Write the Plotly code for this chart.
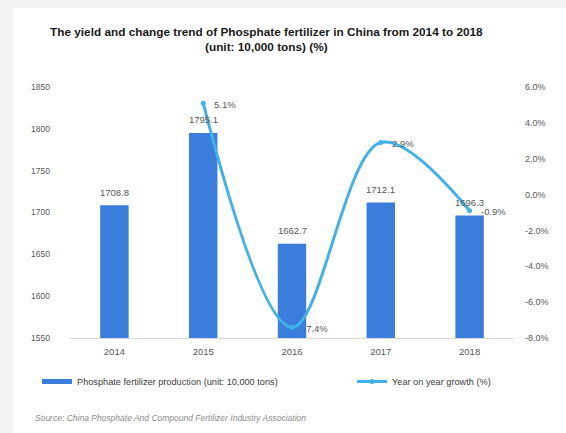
import plotly.graph_objects as go

years = ["2014", "2015", "2016", "2017", "2018"]
production = [1708.8, 1795.1, 1662.7, 1712.1, 1696.3]
growth = [None, 5.1, -7.4, 2.9, -0.9]

left_ticks = [1550, 1600, 1650, 1700, 1750, 1800, 1850]
right_ticks = [-8, -6, -4, -2, 0, 2, 4, 6]
right_tick_text = [f"{v:.1f}%" for v in right_ticks]

BAR_COLOR = "#3b7ddd"
LINE_COLOR = "#40b2ea"
TEXT_GRAY = "#595959"
FONT = "Arial, Liberation Sans, sans-serif"

fig = go.Figure()

fig.add_trace(go.Bar(
    x=years, y=production, yaxis="y",
    marker=dict(color=BAR_COLOR, line=dict(width=0)),
    width=0.32,
    showlegend=False,
    name="Phosphate fertilizer production (unit: 10,000 tons)",
))

# legend entry for the bars drawn as a flat band
fig.add_trace(go.Scatter(
    x=[None], y=[None], mode="lines",
    line=dict(color=BAR_COLOR, width=5),
    name="Phosphate fertilizer production (unit: 10,000 tons)",
    legend="legend",
))

fig.add_trace(go.Scatter(
    x=years, y=growth, yaxis="y2",
    mode="lines+markers",
    line=dict(color=LINE_COLOR, width=3, shape="spline", smoothing=1.0),
    marker=dict(color=LINE_COLOR, size=5),
    cliponaxis=False,
    connectgaps=False,
    name="Year on year growth (%)",
    legend="legend2",
))

# white card over a light gray surround
L, R, T, B = 70, 52, 87, 95
W, H = 566, 433
pw, ph = W - L - R, H - T - B
def px(x):
    return (x - L) / pw
def py(y):
    return (H - B - y) / ph

annotations = [
    dict(text="<b>The yield and change trend of Phosphate fertilizer in China from 2014 to 2018"
              "<br>(unit: 10,000 tons) (%)</b>",
         xref="paper", yref="paper", x=px(266), y=py(40),
         xanchor="center", yanchor="middle", showarrow=False,
         font=dict(size=11.8, color="#1a1a1a", family=FONT)),
    dict(text="<i>Source: China Phosphate And Compound Fertilizer Industry Association</i>",
         xref="paper", yref="paper", x=px(33), y=py(418),
         xanchor="left", yanchor="middle", showarrow=False,
         font=dict(size=8.5, color="#8c8c8c", family=FONT)),
]

# value labels above the bars (category index on the x axis)
for i, v in enumerate(production):
    annotations.append(dict(
        text=f"{v:.1f}", x=i, y=v, xref="x", yref="y",
        yanchor="middle", xanchor="center", yshift=13, showarrow=False,
        font=dict(size=9.5, color=TEXT_GRAY, family=FONT)))

# growth labels to the right of each point
for i, g in enumerate(growth):
    if g is None:
        continue
    annotations.append(dict(
        text=f"{g:.1f}%", x=i, y=g, xref="x", yref="y2",
        yanchor="middle", xanchor="left", xshift=9, yshift=-1, showarrow=False,
        font=dict(size=9.5, color=TEXT_GRAY, family=FONT)))

fig.update_layout(
    width=W, height=H,
    margin=dict(l=L, r=R, t=T, b=B),
    paper_bgcolor="#f2f2f2",
    plot_bgcolor="rgba(0,0,0,0)",
    font=dict(family=FONT, color=TEXT_GRAY, size=9),
    shapes=[dict(type="rect", xref="paper", yref="paper",
                 x0=px(13), x1=px(W + 5), y0=py(H + 5), y1=py(8),
                 fillcolor="white", line=dict(width=0), layer="below")],
    xaxis=dict(
        type="category", range=[-0.5, len(years) - 0.5],
        showgrid=False, zeroline=False,
        showline=True, linecolor="#d9d9d9", linewidth=1,
        ticks="", tickfont=dict(size=9.5, color=TEXT_GRAY),
        ticklabelstandoff=5,
    ),
    yaxis=dict(
        range=[1550, 1850], tickvals=left_ticks,
        showgrid=False, zeroline=False, showline=False,
        tickfont=dict(size=8.5, color=TEXT_GRAY),
        ticklabelstandoff=19,
    ),
    yaxis2=dict(
        overlaying="y", side="right",
        range=[-8, 6], tickvals=right_ticks, ticktext=right_tick_text,
        showgrid=False, zeroline=False, showline=False,
        tickfont=dict(size=9, color=TEXT_GRAY),
        ticklabelstandoff=10,
    ),
    legend=dict(
        orientation="h", x=px(37), y=py(367), xanchor="left", yanchor="top",
        bgcolor="rgba(0,0,0,0)", font=dict(size=9.2, color="#404040"),
        itemwidth=30,
    ),
    legend2=dict(
        orientation="h", x=px(352), y=py(367), xanchor="left", yanchor="top",
        bgcolor="rgba(0,0,0,0)", font=dict(size=9.2, color="#404040"),
        itemwidth=30,
    ),
    annotations=annotations,
)

fig.write_html("out.html")
